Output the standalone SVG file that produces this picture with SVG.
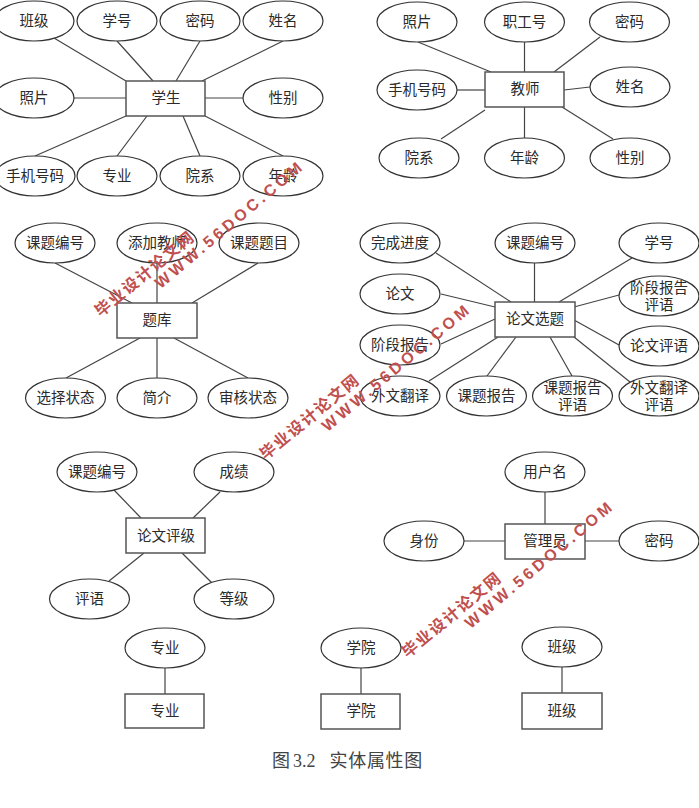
<svg xmlns="http://www.w3.org/2000/svg" width="699" height="808" viewBox="0 0 699 808">
<style>
text{font-family:"Noto Sans CJK SC","Noto Sans",sans-serif;font-size:14.5px;fill:#2a2a2a;text-anchor:middle;dominant-baseline:central}
ellipse{fill:#fff;stroke:#333;stroke-width:1.2}
rect{fill:#fff;stroke:#555;stroke-width:1.5}
#connectors line{stroke:#444;stroke-width:1.2}
#caption{font-family:"Liberation Serif","Noto Sans CJK SC",serif;font-size:18px;fill:#444;text-anchor:start;dominant-baseline:auto}
.wm text{font-weight:700;fill:#c0504f;text-anchor:start}
.wm .cn{font-size:16px;letter-spacing:1.7px}
.wm .en{font-family:"Liberation Sans",sans-serif;font-size:16px;letter-spacing:3.5px}
</style>
<rect width="699" height="808" style="fill:#fff;stroke:none"/>
<g id="connectors">
<line x1="54" y1="38" x2="126" y2="81"/><line x1="117" y1="41" x2="153" y2="81"/><line x1="200" y1="41" x2="176" y2="81"/><line x1="283" y1="41" x2="202" y2="81"/><line x1="74" y1="98" x2="126" y2="98"/><line x1="205" y1="98" x2="243" y2="98"/><line x1="35" y1="156" x2="126" y2="116"/><line x1="117" y1="156" x2="147" y2="116"/><line x1="200" y1="156" x2="183" y2="116"/><line x1="283" y1="156" x2="205" y2="116"/>
<line x1="418" y1="42" x2="491" y2="72"/><line x1="524.5" y1="42" x2="524.5" y2="72"/><line x1="600" y1="37" x2="554" y2="72"/><line x1="457" y1="90" x2="485" y2="90"/><line x1="590" y1="87" x2="564" y2="90"/><line x1="441" y1="139" x2="485" y2="110"/><line x1="524.5" y1="107" x2="524.5" y2="138"/><line x1="613" y1="139" x2="562" y2="107"/>
<line x1="55" y1="263" x2="132" y2="303"/><line x1="157" y1="263" x2="157" y2="303"/><line x1="258" y1="263" x2="192" y2="303"/><line x1="140" y1="338" x2="66" y2="378"/><line x1="157" y1="338" x2="157" y2="378"/><line x1="174" y1="338" x2="248" y2="378"/>
<line x1="436" y1="253" x2="511" y2="302"/><line x1="534.5" y1="263" x2="534.5" y2="302"/><line x1="632" y1="258" x2="559" y2="302"/><line x1="441" y1="294" x2="495" y2="307"/><line x1="619" y1="295" x2="574" y2="307"/><line x1="441" y1="344" x2="495" y2="319"/><line x1="619" y1="345" x2="574" y2="320"/><line x1="429" y1="381" x2="498" y2="337"/><line x1="487" y1="376" x2="516" y2="337"/><line x1="572" y1="376" x2="550" y2="337"/><line x1="630" y1="382" x2="574" y2="337"/>
<line x1="114" y1="490" x2="141" y2="518"/><line x1="220" y1="492" x2="193" y2="518"/><line x1="144" y1="553" x2="109" y2="581"/><line x1="182" y1="553" x2="212" y2="583"/>
<line x1="545" y1="492" x2="545" y2="524"/><line x1="464" y1="541" x2="505" y2="541"/><line x1="585" y1="541" x2="619" y2="541"/>
<line x1="165" y1="668" x2="165" y2="694"/><line x1="361" y1="668" x2="361" y2="694"/><line x1="562" y1="667" x2="562" y2="693"/>
</g>
<g id="student"><rect x="126" y="81" width="79" height="35"/><text x="166" y="96.500">学生</text></g>
<g id="s-class"><ellipse cx="34" cy="21" rx="40" ry="20"/><text x="34" y="19.500">班级</text></g>
<g id="s-no"><ellipse cx="117" cy="21" rx="40" ry="20"/><text x="117" y="19.500">学号</text></g>
<g id="s-pwd"><ellipse cx="200" cy="21" rx="40" ry="20"/><text x="200" y="19.500">密码</text></g>
<g id="s-name"><ellipse cx="283" cy="21" rx="40" ry="20"/><text x="283" y="19.500">姓名</text></g>
<g id="s-photo"><ellipse cx="34" cy="98" rx="40" ry="20"/><text x="34" y="96.500">照片</text></g>
<g id="s-sex"><ellipse cx="283" cy="98" rx="40" ry="20"/><text x="283" y="96.500">性别</text></g>
<g id="s-phone"><ellipse cx="35" cy="176" rx="40" ry="20"/><text x="35" y="174.500">手机号码</text></g>
<g id="s-major"><ellipse cx="117" cy="176" rx="40" ry="20"/><text x="117" y="174.500">专业</text></g>
<g id="s-dept"><ellipse cx="200" cy="176" rx="40" ry="20"/><text x="200" y="174.500">院系</text></g>
<g id="s-age"><ellipse cx="283" cy="176" rx="40" ry="20"/><text x="283" y="174.500">年龄</text></g>
<g id="teacher"><rect x="485" y="72" width="79" height="35"/><text x="525" y="87.500">教师</text></g>
<g id="t-photo"><ellipse cx="417" cy="22" rx="40" ry="20"/><text x="417" y="20.500">照片</text></g>
<g id="t-no"><ellipse cx="524.5" cy="22" rx="40" ry="20"/><text x="524.5" y="20.500">职工号</text></g>
<g id="t-pwd"><ellipse cx="629.5" cy="22" rx="40" ry="20"/><text x="629.5" y="20.500">密码</text></g>
<g id="t-phone"><ellipse cx="417" cy="90" rx="40" ry="20"/><text x="417" y="88.500">手机号码</text></g>
<g id="t-name"><ellipse cx="630" cy="87" rx="40" ry="20"/><text x="630" y="85.500">姓名</text></g>
<g id="t-dept"><ellipse cx="419" cy="158" rx="40" ry="20"/><text x="419" y="156.500">院系</text></g>
<g id="t-age"><ellipse cx="524.5" cy="158" rx="40" ry="20"/><text x="524.5" y="156.500">年龄</text></g>
<g id="t-sex"><ellipse cx="630" cy="158" rx="40" ry="20"/><text x="630" y="156.500">性别</text></g>
<g id="bank"><rect x="117" y="303" width="80" height="35"/><text x="157" y="318.500">题库</text></g>
<g id="b-no"><ellipse cx="55" cy="243" rx="40" ry="20"/><text x="55" y="241.500">课题编号</text></g>
<g id="b-teacher"><ellipse cx="157" cy="243" rx="40" ry="20"/><text x="157" y="241.500">添加教师</text></g>
<g id="b-title"><ellipse cx="259" cy="243" rx="40" ry="20"/><text x="259" y="241.500">课题题目</text></g>
<g id="b-select"><ellipse cx="65.500" cy="398" rx="40" ry="20"/><text x="65.500" y="396.500">选择状态</text></g>
<g id="b-intro"><ellipse cx="157" cy="398" rx="40" ry="20"/><text x="157" y="396.500">简介</text></g>
<g id="b-audit"><ellipse cx="248" cy="398" rx="40" ry="20"/><text x="248" y="396.500">审核状态</text></g>
<g id="topic"><rect x="495" y="302" width="80" height="35"/><text x="535" y="317.500">论文选题</text></g>
<g id="p-progress"><ellipse cx="400" cy="243" rx="40" ry="20"/><text x="400" y="241.500">完成进度</text></g>
<g id="p-no"><ellipse cx="535" cy="243" rx="40" ry="20"/><text x="535" y="241.500">课题编号</text></g>
<g id="p-student"><ellipse cx="659" cy="243" rx="40" ry="20"/><text x="659" y="241.500">学号</text></g>
<g id="p-thesis"><ellipse cx="400" cy="294" rx="40" ry="20"/><text x="400" y="292.500">论文</text></g>
<g id="p-stage-c"><ellipse cx="659" cy="296" rx="40" ry="20"/><text><tspan x="659" y="285.500">阶段报告</tspan><tspan x="659" y="302.500">评语</tspan></text></g>
<g id="p-stage"><ellipse cx="400" cy="345" rx="40" ry="20"/><text x="400" y="343.500">阶段报告</text></g>
<g id="p-thesis-c"><ellipse cx="659" cy="346" rx="40" ry="20"/><text x="659" y="344.500">论文评语</text></g>
<g id="p-trans"><ellipse cx="400" cy="396" rx="40" ry="20"/><text x="400" y="394.500">外文翻译</text></g>
<g id="p-report"><ellipse cx="486.500" cy="396" rx="40" ry="20"/><text x="486.500" y="394.500">课题报告</text></g>
<g id="p-report-c"><ellipse cx="572.500" cy="396" rx="40" ry="20"/><text><tspan x="572.500" y="385.500">课题报告</tspan><tspan x="572.500" y="402.500">评语</tspan></text></g>
<g id="p-trans-c"><ellipse cx="659" cy="396" rx="40" ry="20"/><text><tspan x="659" y="385.500">外文翻译</tspan><tspan x="659" y="402.500">评语</tspan></text></g>
<g id="grade"><rect x="126" y="518" width="79" height="35"/><text x="166" y="534.500">论文评级</text></g>
<g id="g-no"><ellipse cx="97" cy="472" rx="40" ry="20"/><text x="97" y="470.500">课题编号</text></g>
<g id="g-score"><ellipse cx="234" cy="472" rx="40" ry="20"/><text x="234" y="470.500">成绩</text></g>
<g id="g-comment"><ellipse cx="89.500" cy="599" rx="40" ry="20"/><text x="89.500" y="597.500">评语</text></g>
<g id="g-level"><ellipse cx="234" cy="599" rx="40" ry="20"/><text x="234" y="597.500">等级</text></g>
<g id="admin"><rect x="505" y="524" width="80" height="35"/><text x="545" y="539.500">管理员</text></g>
<g id="a-user"><ellipse cx="545" cy="472" rx="40" ry="20"/><text x="545" y="470.500">用户名</text></g>
<g id="a-role"><ellipse cx="424" cy="541" rx="40" ry="20"/><text x="424" y="539.500">身份</text></g>
<g id="a-pwd"><ellipse cx="659" cy="541" rx="40" ry="20"/><text x="659" y="539.500">密码</text></g>
<g id="major-attr"><ellipse cx="165" cy="648" rx="40" ry="20"/><text x="165" y="646.500">专业</text></g>
<g id="major"><rect x="125" y="694" width="79" height="34"/><text x="165" y="709.500">专业</text></g>
<g id="college-attr"><ellipse cx="361" cy="648" rx="40" ry="20"/><text x="361" y="646.500">学院</text></g>
<g id="college"><rect x="321" y="694" width="79" height="35"/><text x="361" y="709.500">学院</text></g>
<g id="class-attr"><ellipse cx="562" cy="647" rx="40" ry="20"/><text x="562" y="645.500">班级</text></g>
<g id="class"><rect x="522" y="693" width="80" height="36"/><text x="562" y="709.500">班级</text></g>
<text id="caption" y="767"><tspan x="272">图</tspan><tspan x="293">3.2</tspan><tspan x="329.500" letter-spacing="0.7">实体属性图</tspan></text>
<g class="wm" id="watermark1">
<text class="cn" transform="translate(96,312) rotate(-39.500)">毕业设计论文网</text>
<text class="en" transform="translate(157,285) rotate(-40)">WWW.56DOC.COM</text>
</g>
<g class="wm" id="watermark2">
<text class="cn" transform="translate(261,455) rotate(-39.500)">毕业设计论文网</text>
<text class="en" transform="translate(324,428) rotate(-40)">WWW.56DOC.COM</text>
</g>
<g class="wm" id="watermark3">
<text class="cn" transform="translate(403,653) rotate(-39.500)">毕业设计论文网</text>
<text class="en" transform="translate(467,625) rotate(-40)">WWW.56DOC.COM</text>
</g>
</svg>
